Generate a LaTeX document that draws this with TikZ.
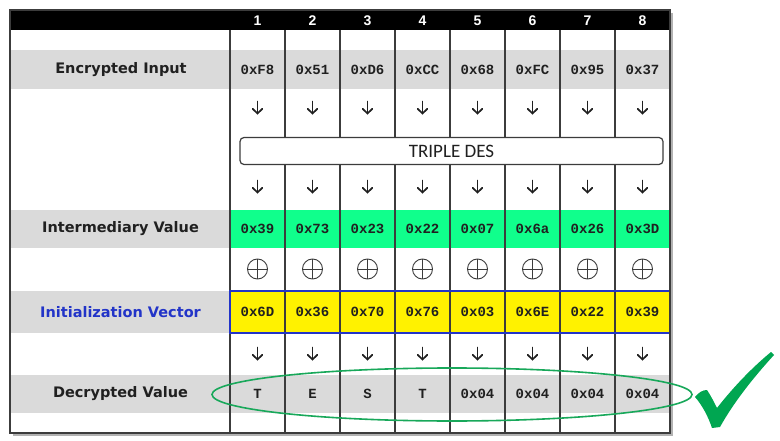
\documentclass[tikz,border=0pt]{standalone}
\usepackage{fontspec}
\setmainfont{DejaVu Sans}
\newfontfamily\hexfont{Liberation Mono}
\newfontfamily\hdrfont{Liberation Sans}
\newfontfamily\desfont{Carlito}
\definecolor{rowgray}{RGB}{218,218,218}
\definecolor{cellgreen}{RGB}{16,255,140}
\definecolor{ivblue}{RGB}{34,52,200}
\definecolor{linegray}{RGB}{60,60,60}
\definecolor{okgreen}{RGB}{0,166,81}
\definecolor{ellgreen}{RGB}{24,168,90}
\definecolor{txt}{RGB}{32,32,32}
\tikzset{
  colline/.style={linegray, line width=1.3pt},
  rowlabel/.style={font=\bfseries\fontsize{14.5}{17}\selectfont, text=txt, inner sep=0pt},
  hexcell/.style={font=\hexfont\bfseries\fontsize{14}{16}\selectfont, text=txt, inner sep=0pt},
  hdrnum/.style={font=\hdrfont\bfseries\fontsize{14}{16}\selectfont, text=white, inner sep=0pt},
  desbox/.style={draw=linegray, line width=1.2pt, fill=white, rounded corners=4pt,
     minimum width=423pt, minimum height=27pt, inner sep=0pt,
     font=\desfont\fontsize{19}{22}\selectfont, text=txt},
  xorc/.style={circle, draw=linegray, line width=0.9pt, minimum size=20pt, inner sep=0pt},
  arr/.style={txt, line width=1.7pt, line cap=round, line join=miter},
}
\begin{document}
\begin{tikzpicture}[x=1pt,y=-1pt]
\useasboundingbox (0,0) rectangle (780,441);
\fill[white] (0,0) rectangle (780,441);
% row bands
\fill[rowgray] (10,50) rectangle (670,89);
\fill[rowgray] (10,210) rectangle (230,248);
\fill[cellgreen] (230,210) rectangle (670,248);
\fill[rowgray] (10,291) rectangle (230,333);
\fill[yellow] (230,291) rectangle (670,333);
\fill[rowgray] (10,375) rectangle (670,413);
% column lines
\foreach \x in {230,285,...,670} \draw[colline] (\x,30) -- (\x,433);
% IV border
\draw[ivblue, line width=1.6pt] (230,291) rectangle (670,333);
% header
\fill[black] (10,10) rectangle (670,30);
\foreach \i in {1,...,8} \node[hdrnum] (h\i) at ({202.5+55*\i},20.5) {\i};
% outer border with shadow
\draw[gray!60, line width=2pt] (672,13) -- (672,435) -- (13,435);
\draw[linegray, line width=1.2pt] (10,10) rectangle (670,433);
% triple des box
\node[desbox] (des) at (451.5,151) {TRIPLE DES};
% labels
\node[rowlabel] (lenc) at (121,70) {Encrypted Input};
\node[rowlabel] (lint) at (120.5,229) {Intermediary Value};
\node[rowlabel, text=ivblue] (liv) at (120.5,312) {Initialization Vector};
\node[rowlabel] (ldec) at (120.5,394) {Decrypted Value};
% cells
\foreach \v [count=\i] in {0xF8,0x51,0xD6,0xCC,0x68,0xFC,0x95,0x37}
  \node[hexcell] (enc\i) at ({202.5+55*\i},70) {\v};
\foreach \v [count=\i] in {0x39,0x73,0x23,0x22,0x07,0x6a,0x26,0x3D}
  \node[hexcell] (int\i) at ({202.5+55*\i},229) {\v};
\foreach \v [count=\i] in {0x6D,0x36,0x70,0x76,0x03,0x6E,0x22,0x39}
  \node[hexcell] (iv\i) at ({202.5+55*\i},312) {\v};
\foreach \v [count=\i] in {T,E,S,T,0x04,0x04,0x04,0x04}
  \node[hexcell] (dec\i) at ({202.5+55*\i},394) {\v};
% xor symbols
\foreach \i in {1,...,8} {
  \node[xorc] (x\i) at ({202.5+55*\i},269) {};
  \draw[linegray, line width=0.9pt] (x\i.north) -- (x\i.south) (x\i.west) -- (x\i.east);
}
% arrows
\foreach \i in {1,...,8} {
  \foreach \y in {108,187,354} {
    \pgfmathsetmacro{\cx}{202.5+55*\i}
    \draw[arr] (\cx,\y-6.5) -- (\cx,\y+5.5);
    \draw[arr] (\cx-4.8,\y+0.8) -- (\cx,\y+5.5) -- (\cx+4.8,\y+0.8);
  }
}
% green ellipse
\draw[ellgreen, line width=1.6pt] (452,394.5) ellipse [x radius=240, y radius=26.5];
% check mark
\fill[okgreen] (695,397) .. controls (699,392) and (703,390) .. (707,390)
  .. controls (711,396) and (714,402) .. (717,408)
  .. controls (735,385) and (754,366) .. (771,352)
  -- (774,355)
  .. controls (753,378) and (734,402) .. (720,427)
  -- (712,428)
  .. controls (708,416) and (702,405) .. (695,397) -- cycle;
\end{tikzpicture}
\end{document}
